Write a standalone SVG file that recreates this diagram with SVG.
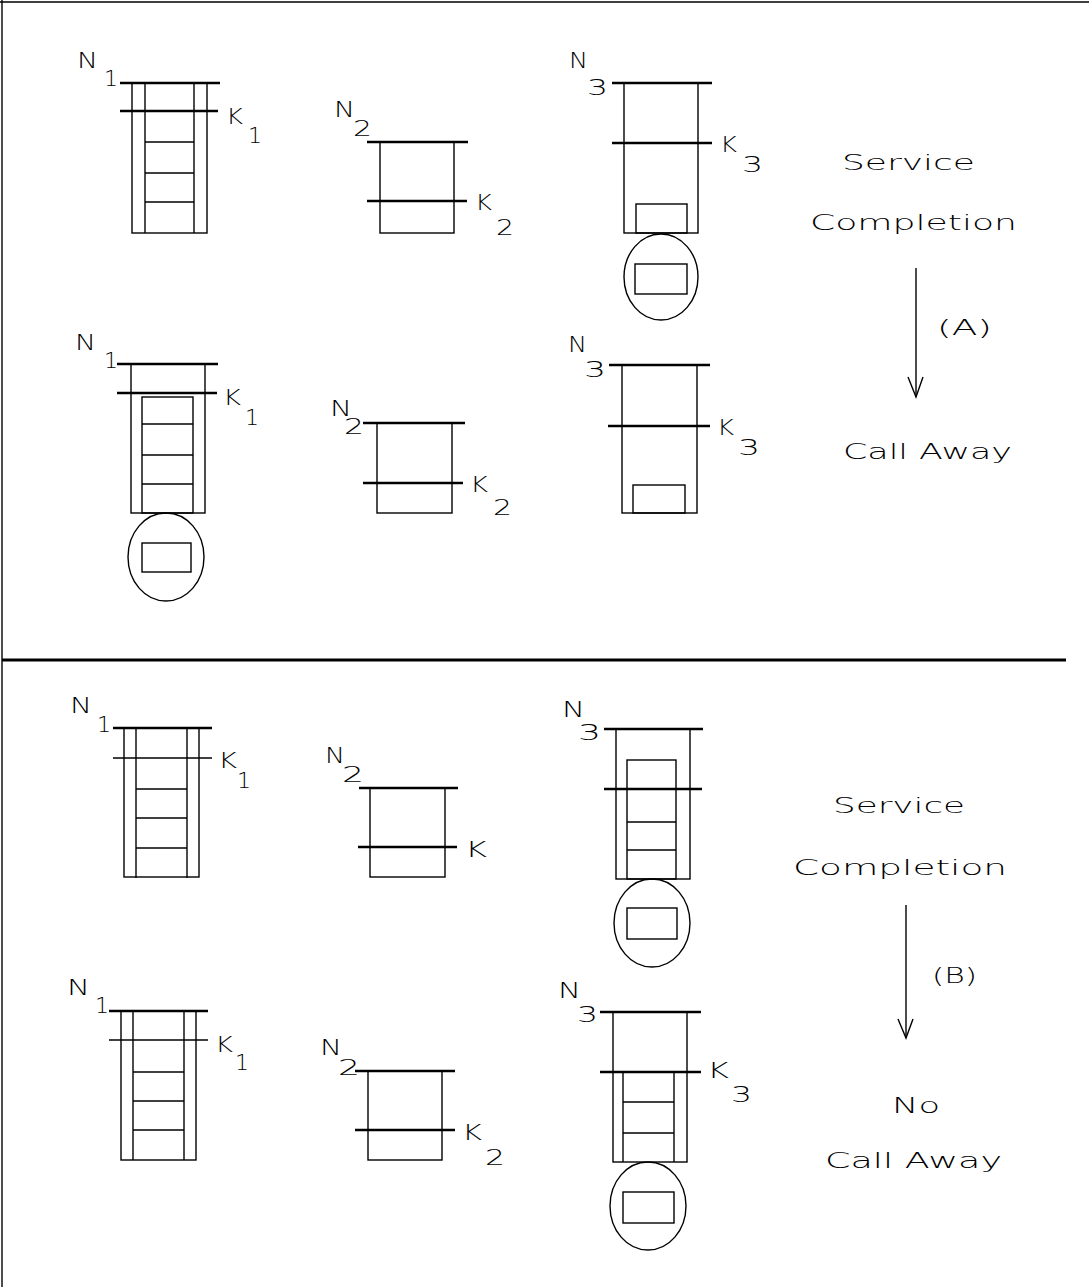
<svg xmlns="http://www.w3.org/2000/svg" width="1089" height="1287" viewBox="0 0 1089 1287">
<style>
.t{font-family:"DejaVu Sans","Liberation Sans",sans-serif;font-weight:200;font-size:22px;fill:#000}
.s{fill:none;stroke:#000;stroke-width:1.4}
.b{fill:none;stroke:#000;stroke-width:2.6}
.k{fill:none;stroke:#000;stroke-width:1.4}
</style>
<rect width="1089" height="1287" fill="#fff"/>
<g id="frame">
<line class="s" x1="0" y1="2" x2="1089" y2="2"/>
<line class="s" x1="2" y1="0" x2="2" y2="1287"/>
<line x1="2" y1="660" x2="1066" y2="660" stroke="#000" stroke-width="3"/>
</g>

<!-- Section A, row 1 -->
<g id="a1-q1">
<rect class="s" x="132" y="83" width="75" height="150"/>
<line class="s" x1="145" y1="83" x2="145" y2="233"/>
<line class="s" x1="194" y1="83" x2="194" y2="233"/>
<line class="s" x1="145" y1="142" x2="194" y2="142"/>
<line class="s" x1="145" y1="173" x2="194" y2="173"/>
<line class="s" x1="145" y1="202" x2="194" y2="202"/>
<line class="b" x1="120" y1="83" x2="220" y2="83"/>
<line class="b" x1="120" y1="111" x2="218" y2="111"/>
<text class="t" x="77" y="68" textLength="21" lengthAdjust="spacingAndGlyphs">N</text><text class="t" x="104" y="86">1</text>
<text class="t" x="226" y="124" textLength="17" lengthAdjust="spacingAndGlyphs">K</text><text class="t" x="248" y="143">1</text>
</g>
<g id="a1-q2">
<rect class="s" x="380" y="142" width="74" height="91"/>
<line class="b" x1="367" y1="142" x2="468" y2="142"/>
<line class="b" x1="367" y1="201" x2="467" y2="201"/>
<text class="t" x="334" y="117" textLength="21" lengthAdjust="spacingAndGlyphs">N</text><text class="t" x="353" y="136" textLength="19" lengthAdjust="spacingAndGlyphs">2</text>
<text class="t" x="475" y="210" textLength="17" lengthAdjust="spacingAndGlyphs">K</text><text class="t" x="496" y="235" textLength="18" lengthAdjust="spacingAndGlyphs">2</text>
</g>
<g id="a1-q3">
<rect class="s" x="624" y="83" width="74" height="150"/>
<rect class="s" x="636" y="204" width="51" height="29"/>
<line class="b" x1="612" y1="83" x2="712" y2="83"/>
<line class="b" x1="612" y1="143" x2="712" y2="143"/>
<ellipse class="s" cx="661" cy="277" rx="37" ry="43"/>
<rect class="s" x="635" y="264" width="52" height="30"/>
<text class="t" x="569" y="68" textLength="19" lengthAdjust="spacingAndGlyphs">N</text><text class="t" x="587" y="95" textLength="21" lengthAdjust="spacingAndGlyphs">3</text>
<text class="t" x="720" y="152" textLength="17" lengthAdjust="spacingAndGlyphs">K</text><text class="t" x="742" y="172" textLength="21" lengthAdjust="spacingAndGlyphs">3</text>
</g>

<!-- Section A, row 2 -->
<g id="a2-q1">
<rect class="s" x="131" y="364" width="74" height="149"/>
<rect class="s" x="142" y="397" width="51" height="116"/>
<line class="s" x1="142" y1="424" x2="193" y2="424"/>
<line class="s" x1="142" y1="455" x2="193" y2="455"/>
<line class="s" x1="142" y1="484" x2="193" y2="484"/>
<line class="b" x1="117" y1="364" x2="218" y2="364"/>
<line class="b" x1="117" y1="393" x2="217" y2="393"/>
<ellipse class="s" cx="166" cy="557" rx="38" ry="44"/>
<rect class="s" x="142" y="543" width="49" height="29"/>
<text class="t" x="75" y="350" textLength="21" lengthAdjust="spacingAndGlyphs">N</text><text class="t" x="104" y="368">1</text>
<text class="t" x="223" y="405" textLength="18" lengthAdjust="spacingAndGlyphs">K</text><text class="t" x="245" y="425">1</text>
</g>
<g id="a2-q2">
<rect class="s" x="377" y="423" width="75" height="90"/>
<line class="b" x1="363" y1="423" x2="465" y2="423"/>
<line class="b" x1="363" y1="483" x2="463" y2="483"/>
<text class="t" x="330" y="416" textLength="22" lengthAdjust="spacingAndGlyphs">N</text><text class="t" x="344" y="434" textLength="20" lengthAdjust="spacingAndGlyphs">2</text>
<text class="t" x="470" y="492" textLength="18" lengthAdjust="spacingAndGlyphs">K</text><text class="t" x="493" y="515" textLength="19" lengthAdjust="spacingAndGlyphs">2</text>
</g>
<g id="a2-q3">
<rect class="s" x="622" y="365" width="75" height="148"/>
<rect class="s" x="633" y="485" width="52" height="28"/>
<line class="b" x1="609" y1="365" x2="710" y2="365"/>
<line class="b" x1="608" y1="426" x2="710" y2="426"/>
<text class="t" x="568" y="352" textLength="19" lengthAdjust="spacingAndGlyphs">N</text><text class="t" x="584" y="377" textLength="22" lengthAdjust="spacingAndGlyphs">3</text>
<text class="t" x="717" y="435" textLength="17" lengthAdjust="spacingAndGlyphs">K</text><text class="t" x="738" y="455" textLength="22" lengthAdjust="spacingAndGlyphs">3</text>
</g>

<g id="a-labels">
<text class="t" x="842" y="170" textLength="133" lengthAdjust="spacingAndGlyphs">Service</text>
<text class="t" x="810" y="230" textLength="207" lengthAdjust="spacingAndGlyphs">Completion</text>
<text class="t" x="937" y="335" textLength="55" lengthAdjust="spacingAndGlyphs">(A)</text>
<text class="t" x="843" y="459" textLength="169" lengthAdjust="spacingAndGlyphs">Call Away</text>
</g>

<!-- Section B, row 1 -->
<g id="b1-q1">
<rect class="s" x="124" y="728" width="75" height="149"/>
<line class="s" x1="136" y1="728" x2="136" y2="878"/>
<line class="s" x1="187" y1="728" x2="187" y2="878"/>
<line class="s" x1="136" y1="789" x2="187" y2="789"/>
<line class="s" x1="136" y1="818" x2="187" y2="818"/>
<line class="s" x1="136" y1="848" x2="187" y2="848"/>
<line class="b" x1="113" y1="728" x2="212" y2="728"/>
<line class="k" x1="113" y1="758" x2="212" y2="758"/>
<text class="t" x="70" y="713" textLength="22" lengthAdjust="spacingAndGlyphs">N</text><text class="t" x="97" y="732">1</text>
<text class="t" x="218" y="768" textLength="19" lengthAdjust="spacingAndGlyphs">K</text><text class="t" x="237" y="788">1</text>
</g>
<g id="b1-q2">
<rect class="s" x="370" y="788" width="75" height="89"/>
<line class="b" x1="359" y1="788" x2="458" y2="788"/>
<line class="b" x1="358" y1="847" x2="457" y2="847"/>
<text class="t" x="325" y="763" textLength="20" lengthAdjust="spacingAndGlyphs">N</text><text class="t" x="342" y="782" textLength="22" lengthAdjust="spacingAndGlyphs">2</text>
<text class="t" x="465" y="857" textLength="22" lengthAdjust="spacingAndGlyphs">K</text>
</g>
<g id="b1-q3">
<rect class="s" x="616" y="729" width="74" height="150"/>
<rect class="s" x="627" y="760" width="49" height="119"/>
<line class="s" x1="627" y1="822" x2="676" y2="822"/>
<line class="s" x1="627" y1="850" x2="676" y2="850"/>
<line class="b" x1="604" y1="729" x2="703" y2="729"/>
<line class="b" x1="604" y1="789" x2="702" y2="789"/>
<ellipse class="s" cx="652" cy="923" rx="38" ry="44"/>
<rect class="s" x="627" y="908" width="50" height="31"/>
<text class="t" x="562" y="717" textLength="23" lengthAdjust="spacingAndGlyphs">N</text><text class="t" x="578" y="740" textLength="23" lengthAdjust="spacingAndGlyphs">3</text>
</g>

<!-- Section B, row 2 -->
<g id="b2-q1">
<rect class="s" x="121" y="1011" width="75" height="149"/>
<line class="s" x1="133" y1="1011" x2="133" y2="1160"/>
<line class="s" x1="184" y1="1011" x2="184" y2="1160"/>
<line class="s" x1="133" y1="1072" x2="184" y2="1072"/>
<line class="s" x1="133" y1="1101" x2="184" y2="1101"/>
<line class="s" x1="133" y1="1130" x2="184" y2="1130"/>
<line class="b" x1="109" y1="1011" x2="208" y2="1011"/>
<line class="k" x1="109" y1="1040" x2="208" y2="1040"/>
<text class="t" x="67" y="995" textLength="23" lengthAdjust="spacingAndGlyphs">N</text><text class="t" x="95" y="1013">1</text>
<text class="t" x="215" y="1052" textLength="18" lengthAdjust="spacingAndGlyphs">K</text><text class="t" x="235" y="1070">1</text>
</g>
<g id="b2-q2">
<rect class="s" x="368" y="1071" width="74" height="89"/>
<line class="b" x1="355" y1="1071" x2="455" y2="1071"/>
<line class="b" x1="355" y1="1130" x2="455" y2="1130"/>
<text class="t" x="320" y="1055" textLength="22" lengthAdjust="spacingAndGlyphs">N</text><text class="t" x="338" y="1075" textLength="22" lengthAdjust="spacingAndGlyphs">2</text>
<text class="t" x="462" y="1140" textLength="20" lengthAdjust="spacingAndGlyphs">K</text><text class="t" x="485" y="1165" textLength="20" lengthAdjust="spacingAndGlyphs">2</text>
</g>
<g id="b2-q3">
<rect class="s" x="613" y="1012" width="74" height="150"/>
<line class="s" x1="623" y1="1072" x2="623" y2="1162"/>
<line class="s" x1="674" y1="1072" x2="674" y2="1162"/>
<line class="s" x1="623" y1="1102" x2="674" y2="1102"/>
<line class="s" x1="623" y1="1133" x2="674" y2="1133"/>
<line class="b" x1="600" y1="1012" x2="701" y2="1012"/>
<line class="b" x1="600" y1="1072" x2="701" y2="1072"/>
<ellipse class="s" cx="648" cy="1206" rx="38" ry="44"/>
<rect class="s" x="623" y="1192" width="51" height="31"/>
<text class="t" x="558" y="998" textLength="23" lengthAdjust="spacingAndGlyphs">N</text><text class="t" x="577" y="1022" textLength="21" lengthAdjust="spacingAndGlyphs">3</text>
<text class="t" x="707" y="1078" textLength="22" lengthAdjust="spacingAndGlyphs">K</text><text class="t" x="731" y="1102" textLength="21" lengthAdjust="spacingAndGlyphs">3</text>
</g>

<g id="b-labels">
<text class="t" x="833" y="813" textLength="132" lengthAdjust="spacingAndGlyphs">Service</text>
<text class="t" x="793" y="875" textLength="214" lengthAdjust="spacingAndGlyphs">Completion</text>
<text class="t" x="932" y="983" textLength="45" lengthAdjust="spacingAndGlyphs">(B)</text>
<text class="t" x="892" y="1113" textLength="48" lengthAdjust="spacingAndGlyphs">No</text>
<text class="t" x="825" y="1168" textLength="177" lengthAdjust="spacingAndGlyphs">Call Away</text>
</g>

<g id="connectors">
<line class="s" x1="916" y1="268" x2="916" y2="397"/>
<polyline class="s" points="908,377 916,397 923,377"/>
<line class="s" x1="906" y1="905" x2="906" y2="1038"/>
<polyline class="s" points="898,1019 906,1038 913,1019"/>
</g>
</svg>
